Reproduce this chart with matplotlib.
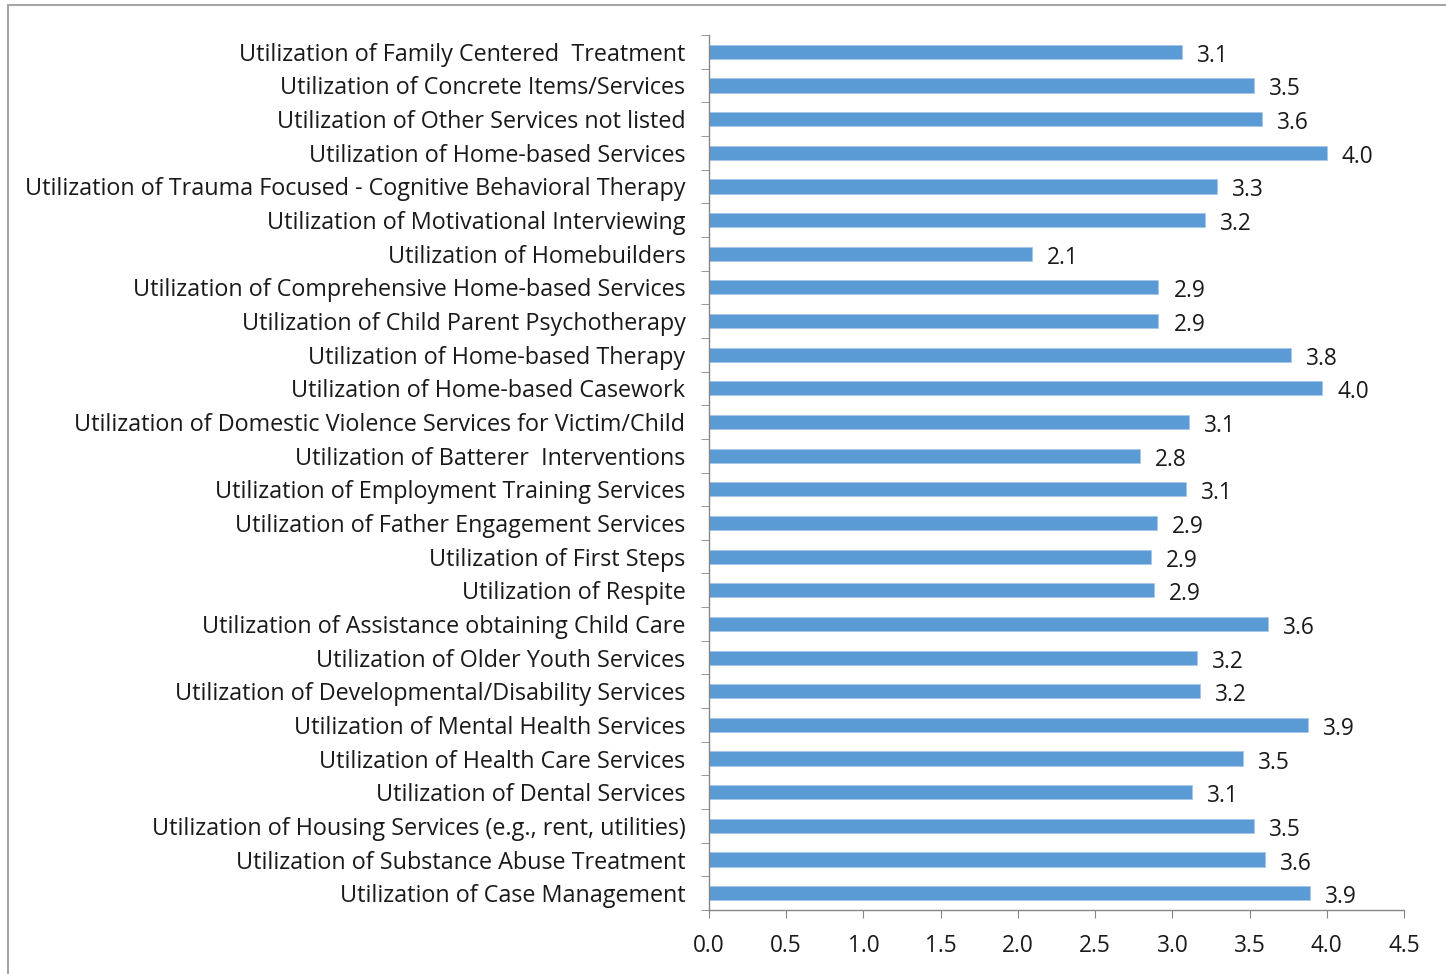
import matplotlib
matplotlib.use("Agg")
import matplotlib.pyplot as plt
from matplotlib.patches import Rectangle
from matplotlib.ticker import FixedLocator, NullFormatter

categories = [
    "Utilization of Family Centered  Treatment",
    "Utilization of Concrete Items/Services",
    "Utilization of Other Services not listed",
    "Utilization of Home-based Services",
    "Utilization of Trauma Focused - Cognitive Behavioral Therapy",
    "Utilization of Motivational Interviewing",
    "Utilization of Homebuilders",
    "Utilization of Comprehensive Home-based Services",
    "Utilization of Child Parent Psychotherapy",
    "Utilization of Home-based Therapy",
    "Utilization of Home-based Casework",
    "Utilization of Domestic Violence Services for Victim/Child",
    "Utilization of Batterer  Interventions",
    "Utilization of Employment Training Services",
    "Utilization of Father Engagement Services",
    "Utilization of First Steps",
    "Utilization of Respite",
    "Utilization of Assistance obtaining Child Care",
    "Utilization of Older Youth Services",
    "Utilization of Developmental/Disability Services",
    "Utilization of Mental Health Services",
    "Utilization of Health Care Services",
    "Utilization of Dental Services",
    "Utilization of Housing Services (e.g., rent, utilities)",
    "Utilization of Substance Abuse Treatment",
    "Utilization of Case Management",
]
values = [3.06, 3.53, 3.58, 4.00, 3.29, 3.21, 2.09, 2.91, 2.91, 3.77, 3.97,
          3.11, 2.79, 3.09, 2.90, 2.86, 2.88, 3.62, 3.16, 3.18, 3.88, 3.46,
          3.13, 3.53, 3.60, 3.89]
xticks = [0.0, 0.5, 1.0, 1.5, 2.0, 2.5, 3.0, 3.5, 4.0, 4.5]

plt.rcParams['font.family'] = ['Open Sans', 'DejaVu Sans']
FS = 16.3
FS_CAT = 16.8
TXT = '#1a1a1a'

W, H = 1446, 974
fig = plt.figure(figsize=(W / 100, H / 100), dpi=100)
fig.patches.append(Rectangle((8 / W, -0.1), 1.2, 1.1 - 5 / H, transform=fig.transFigure,
                             fill=False, edgecolor='#a6a6a6', linewidth=1.5))

ax = fig.add_axes([709 / W, 1 - 910 / H, (1404 - 709) / W, (910 - 35) / H])
n = len(categories)
ypos = list(range(n))[::-1]
ax.barh(ypos, values, height=0.42, color='#5b9bd5', edgecolor='#a9c8ea', linewidth=0.6)
ax.set_ylim(-0.5, n - 0.5)
ax.set_xlim(0, 4.5)

ax.set_yticks(ypos)
ax.set_yticklabels(categories, fontsize=FS_CAT, color=TXT)
ax.tick_params(axis='y', which='major', length=0, pad=17)
ax.yaxis.set_minor_locator(FixedLocator([i - 0.5 for i in range(n + 1)]))
ax.yaxis.set_minor_formatter(NullFormatter())
ax.tick_params(axis='y', which='minor', length=6, color='#868686', direction='out')

ax.set_xticks(xticks)
ax.set_xticklabels([f"{t:.1f}" for t in xticks], fontsize=FS, color=TXT)
ax.tick_params(axis='x', length=6, color='#868686', direction='out', pad=11)

for s in ['top', 'right']:
    ax.spines[s].set_visible(False)
for s in ['left', 'bottom']:
    ax.spines[s].set_color('#868686')
    ax.spines[s].set_linewidth(1)

for y, v in zip(ypos, values):
    ax.annotate(f"{v:.1f}", (v, y), xytext=(15, -1), textcoords='offset pixels',
                ha='left', va='center_baseline', fontsize=FS, color=TXT)

fig.savefig("out.png", dpi=100)
